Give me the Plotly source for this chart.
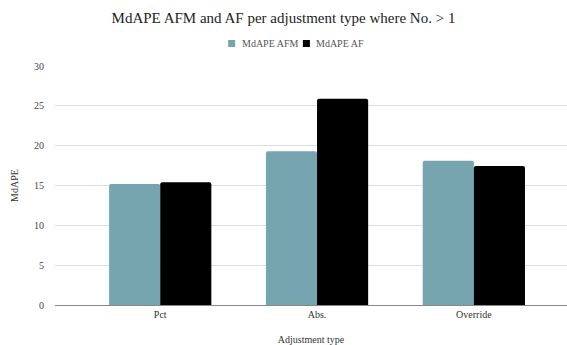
import plotly.graph_objects as go

categories = ["Pct", "Abs.", "Override"]
afm_values = [15.2, 19.3, 18.1]
af_values = [15.4, 25.9, 17.45]
series_names = ["MdAPE AFM", "MdAPE AF"]
series_colors = ["#76a5af", "#000000"]
y_ticks = [0, 5, 10, 15, 20, 25, 30]

FONT = "Times New Roman, DejaVu Serif, serif"

fig = go.Figure()
for vals, name, col in zip([afm_values, af_values], series_names, series_colors):
    fig.add_trace(go.Bar(x=categories, y=vals, name=name,
                         marker=dict(color=col, line=dict(width=0))))

# compact legend drawn as squares + text, like the reference
PW, PH = 512, 239
legend_x = [0.345, 0.491]  # paper positions of square centres
for name, col, lx in zip(series_names, series_colors, legend_x):
    fig.add_shape(type="rect", xref="paper", yref="paper",
                  x0=lx - 3.5 / PW, x1=lx + 3.5 / PW,
                  y0=1.0 + (66 - 47) / PH, y1=1.0 + (66 - 40) / PH,
                  fillcolor=col, line=dict(width=0))
    fig.add_annotation(text=name, xref="paper", yref="paper",
                       x=lx + 8 / PW, y=1.0 + (66 - 43.5) / PH,
                       xanchor="left", yanchor="middle", showarrow=False,
                       font=dict(family=FONT, size=10, color="#555555"))

fig.update_layout(
    width=567, height=345,
    margin=dict(l=55, r=0, t=66, b=40),
    paper_bgcolor="white", plot_bgcolor="white",
    font=dict(family=FONT, size=10, color="#444444"),
    showlegend=False,
    title=dict(text="MdAPE AFM and AF per adjustment type where No. > 1",
               font=dict(family=FONT, size=15, color="#222222"),
               x=0.5, xanchor="center", y=0.95, yanchor="middle"),
    barmode="group", bargap=0.348, bargroupgap=0,
    barcornerradius=2,
    xaxis=dict(range=[-0.671, 2.594], showgrid=False, showline=True,
               linecolor="#888888", linewidth=1, ticks="",
               tickfont=dict(family=FONT, size=10, color="#333333"),
               title=dict(text="Adjustment type", standoff=18,
                          font=dict(family=FONT, size=10, color="#333333"))),
    yaxis=dict(range=[0, 30], tickvals=y_ticks, showgrid=True,
               gridcolor="#dddddd", gridwidth=1, zeroline=False,
               ticks="", ticklen=0, ticklabelstandoff=10,
               tickfont=dict(family=FONT, size=10, color="#444444"),
               title=dict(text="MdAPE", standoff=13,
                          font=dict(family=FONT, size=10, color="#333333"))),
)

fig.write_html("out.html")
